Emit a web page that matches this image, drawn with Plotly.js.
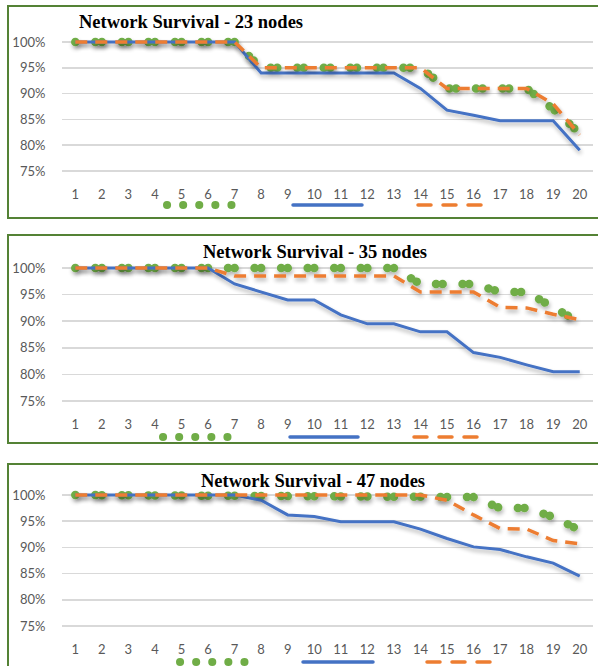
<!DOCTYPE html>
<html>
<head>
<meta charset="utf-8">
<script src="https://cdn.plot.ly/plotly-3.0.1.min.js"></script>
<style>
html,body{margin:0;padding:0;background:#fff;}
#chart{width:598px;height:666px;}
.scatterlayer .js-line{filter:url(#sh);}
.tracegA .js-line,.tracegB .js-line,.tracegC .js-line{stroke-linecap:round !important;}
.shapelayer path{stroke-linecap:round;}
</style>
</head>
<body>
<svg width="0" height="0" style="position:absolute">
<defs>
<filter id="sh" filterUnits="userSpaceOnUse" x="-1000" y="-1000" width="4000" height="4000">
<feGaussianBlur in="SourceAlpha" stdDeviation="2"/>
<feOffset dx="1" dy="3" result="b"/>
<feComponentTransfer><feFuncA type="linear" slope="0.3"/></feComponentTransfer>
<feMerge><feMergeNode/><feMergeNode in="SourceGraphic"/></feMerge>
</filter>
</defs>
</svg>
<div id="chart"></div>
<script>
// ---- data ----
const categories = [1,2,3,4,5,6,7,8,9,10,11,12,13,14,15,16,17,18,19,20];
const tickLabels = ['1','2','3','4','5','6','7','8','9','10','11','12','13','14','15','16','17','18','19','20'];
const titles = ['Network Survival - 23 nodes','Network Survival - 35 nodes','Network Survival - 47 nodes'];

const n23_green  = [1,1,1,1,1,1,1,0.95,0.95,0.95,0.95,0.95,0.95,0.95,0.91,0.91,0.91,0.91,0.87,0.823];
const n23_blue   = [1,1,1,1,1,1,1,0.94,0.94,0.94,0.94,0.94,0.94,0.91,0.868,0.858,0.8475,0.8475,0.8475,0.79];
const n23_orange = [1,1,1,1,1,1,1,0.95,0.95,0.95,0.95,0.95,0.95,0.95,0.91,0.91,0.91,0.91,0.88,0.82];

const n35_green  = [1,1,1,1,1,1,1,1,1,1,1,1,1,0.97,0.97,0.97,0.955,0.955,0.926,0.898];
const n35_blue   = [1,1,1,1,1,1,0.97,0.955,0.94,0.94,0.912,0.895,0.895,0.88,0.88,0.841,0.832,0.818,0.805,0.805];
const n35_orange = [1,1,1,1,1,1,0.985,0.985,0.985,0.985,0.985,0.985,0.985,0.955,0.955,0.955,0.926,0.925,0.913,0.903];

const n47_green  = [1,1,1,1,1,1,1,1,1,1,1,1,1,1,1,0.996,0.975,0.975,0.958,0.933];
const n47_blue   = [1,1,1,1,1,1,1,0.99,0.962,0.959,0.949,0.949,0.949,0.935,0.917,0.901,0.896,0.882,0.87,0.845];
const n47_orange = [1,1,1,1,1,1,1,1,1,1,1,1,1,1,0.99,0.962,0.936,0.935,0.913,0.907];

const panelsData = [
  {green:n23_green, blue:n23_blue, orange:n23_orange},
  {green:n35_green, blue:n35_blue, orange:n35_orange},
  {green:n47_green, blue:n47_blue, orange:n47_orange}
];

// ---- layout geometry (pixels) ----
const W = 598, H = 666;
const X = v => v / W;
const Y = v => 1 - v / H;
const GREEN = '#70AD47', BLUE = '#4472C4', ORANGE = '#ED7D31', BORDER = '#548235';
const plotL = 62, plotR = 593;
const geo = [
  {top:42,  bot:171, box:[8,6,218],   titleX:191, titleY:22,  leg:[[167,233],[293,362],[418,487]], legY:205},
  {top:268, bot:401, box:[8,235,443], titleX:315, titleY:252, leg:[[163,231],[290,358],[414,482]], legY:437},
  {top:495, bot:626, box:[8,464,720], titleX:313, titleY:481, leg:[[180,245],[303,373],[427,495]], legY:662}
];

const data = [];
const layout = {
  width: W, height: H,
  margin: {l:0, r:0, t:0, b:0},
  paper_bgcolor: '#fff', plot_bgcolor: 'rgba(0,0,0,0)',
  showlegend: false,
  shapes: [], annotations: []
};
const greenDash = '0.1px,19.9px,0.1px,6.45px';

geo.forEach((g, i) => {
  const sfx = i === 0 ? '' : String(i + 1);
  const ppu = (g.bot - g.top) / 0.25; // px per unit
  const yr = [0.75 - 1.5 / ppu, 1 + 6 / ppu];
  layout['xaxis' + sfx] = {
    domain: [X(plotL), X(plotR)],
    anchor: 'y' + sfx,
    range: [0.5, 20.5],
    tickmode: 'array', tickvals: categories, ticktext: tickLabels,
    showgrid: false, zeroline: false, showline: false,
    ticks: 'outside', ticklen: 10, tickcolor: 'rgba(0,0,0,0)',
    tickfont: {family: 'Lato, "DejaVu Sans", sans-serif', size: 13, color: '#595959'},
    fixedrange: true
  };
  layout['yaxis' + sfx] = {
    domain: [Y(g.bot + 1.5), Y(g.top - 6)],
    anchor: 'x' + sfx,
    range: yr,
    tickmode: 'array', tickvals: [0.75,0.8,0.85,0.9,0.95,1.0],
    tickformat: '.0%',
    showgrid: true, gridcolor: '#D9D9D9', gridwidth: 1.5,
    zeroline: false, showline: false,
    ticks: 'outside', ticklen: 13, tickcolor: 'rgba(0,0,0,0)',
    tickfont: {family: 'Lato, "DejaVu Sans", sans-serif', size: 13, color: '#595959'},
    fixedrange: true
  };
  const d = panelsData[i];
  const ids = ['A','B','C'][i];
  data.push({x: categories, y: d.green, xaxis:'x'+sfx, yaxis:'y'+sfx, mode:'lines', uid:'g'+ids,
             line:{color:GREEN, width:8.5, dash:greenDash}, hoverinfo:'skip'});
  data.push({x: categories, y: d.blue, xaxis:'x'+sfx, yaxis:'y'+sfx, mode:'lines', uid:'b'+ids,
             line:{color:BLUE, width:3}, hoverinfo:'skip'});
  data.push({x: categories, y: d.orange, xaxis:'x'+sfx, yaxis:'y'+sfx, mode:'lines', uid:'o'+ids,
             line:{color:ORANGE, width:3.5, dash:'12px,8px'}, hoverinfo:'skip'});

  // panel border
  layout.shapes.push({type:'rect', xref:'paper', yref:'paper',
    x0:X(g.box[0]), x1:X(W + 20), y0:Y(g.box[2]), y1:Y(g.box[1]),
    line:{color:BORDER, width:2}, fillcolor:'rgba(0,0,0,0)', layer:'below'});
  // legend samples (no text in the original)
  const legStyles = [
    {color:GREEN, width:8, dash:'0.1px,16px'},
    {color:BLUE, width:3.5, dash:'solid'},
    {color:ORANGE, width:3.5, dash:'13px,12px'}
  ];
  g.leg.forEach((seg, k) => {
    layout.shapes.push({type:'line', xref:'paper', yref:'paper',
      x0:X(seg[0]), x1:X(seg[1]), y0:Y(g.legY), y1:Y(g.legY),
      line:legStyles[k]});
  });
  // title
  layout.annotations.push({text:'<b>' + titles[i] + '</b>', xref:'paper', yref:'paper',
    x:X(g.titleX), y:Y(g.titleY), xanchor:'center', yanchor:'middle', showarrow:false,
    font:{family:'"Liberation Serif", "Times New Roman", serif', size:18.5, color:'#000'}});
});

Plotly.newPlot('chart', data, layout, {displayModeBar:false, staticPlot:true});
</script>
</body>
</html>
